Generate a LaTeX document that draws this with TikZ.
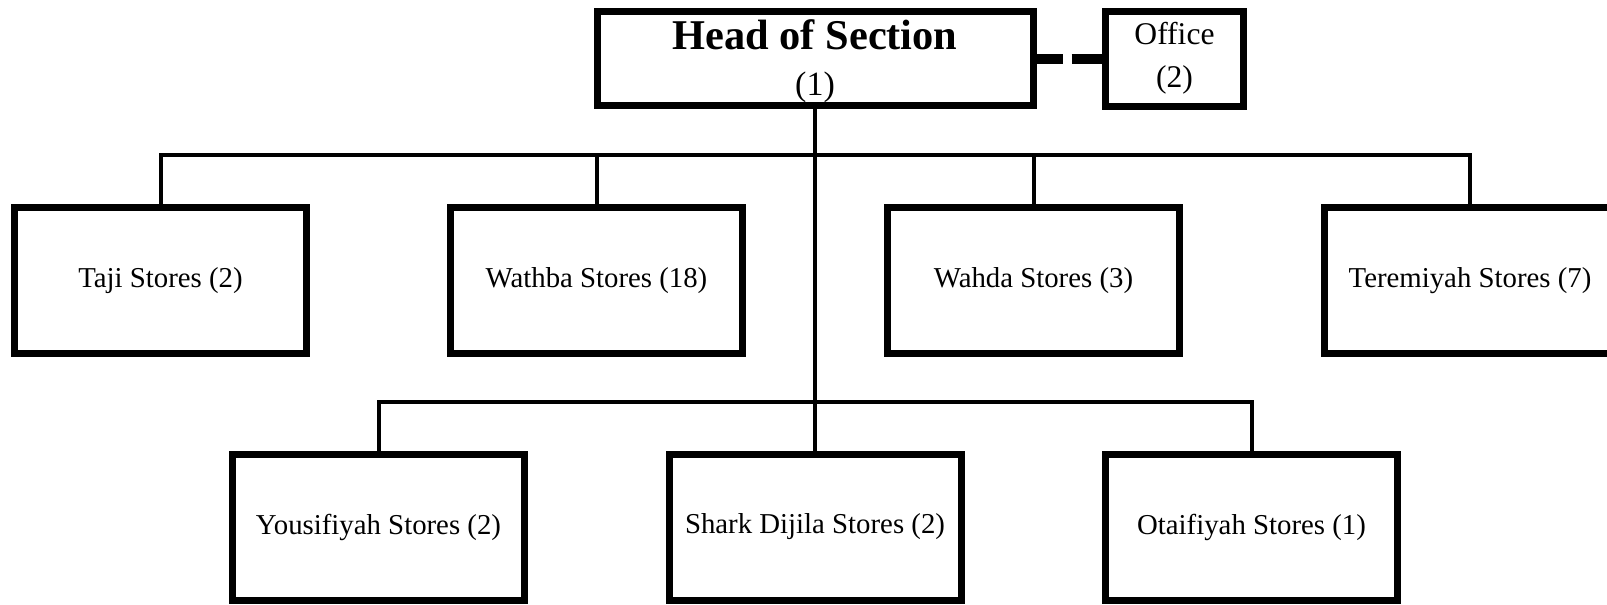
\documentclass[tikz,border=0pt]{standalone}
\usepackage{fontspec}
\setmainfont{Liberation Serif}
\begin{document}
\begin{tikzpicture}[x=0.5pt,y=-0.5pt,
    unit/.style={draw,line width=3.5pt,inner sep=0pt,
      minimum width=146pt,minimum height=73pt,
      font=\fontsize{14.4}{17}\selectfont},
    link/.style={line width=2pt}]
  \useasboundingbox (0,0) rectangle (1607,605);
  % top of the chart
  \draw
    (815,58.5) node[draw,line width=3.5pt,inner sep=0pt,align=center,
      minimum width=218pt,minimum height=47pt,
      font=\fontsize{17}{23}\selectfont] (head)
      {\rule{0pt}{18pt}{\fontsize{21.2}{23}\selectfont\bfseries Head of Section}\\(1)}
    (1174.5,58.5) node[draw,line width=3.5pt,inner sep=0pt,align=center,
      minimum width=69pt,minimum height=47.5pt,
      font=\fontsize{15.8}{21.5}\selectfont] (office) {Office\\(2)};
  % first row of stores
  \draw
    (160.5,280.5) node[unit] (taji){Taji Stores (2)}
    (596.5,280.5) node[unit] (wathba){Wathba Stores (18)}
    (1033.5,280.5) node[unit] (wahda){Wahda Stores (3)}
    (1470,280.5) node[unit] (teremiyah){Teremiyah Stores (7)};
  % second row of stores
  \draw
    (378.5,527) node[unit] (yousifiyah){Yousifiyah Stores (2)}
    (815,527) node[unit] (shark){Shark Dijila Stores (2)}
    (1251.5,527) node[unit] (otaifiyah){Otaifiyah Stores (1)};
  \coordinate (bus1) at (815,155);
  \coordinate (bus2) at (815,402);
  \begin{scope}[link]
    \draw (head) to (shark);
    \draw (taji.north) |- (bus1) -| (teremiyah.north);
    \draw (wathba.north) to (wathba.north |- bus1);
    \draw (wahda.north) to (wahda.north |- bus1);
    \draw (yousifiyah.north) |- (bus2) -| (otaifiyah.north);
  \end{scope}
  \draw[line width=5pt,dash pattern=on 13pt off 4.5pt on 30pt] (head) -- (office);
\end{tikzpicture}
\end{document}
